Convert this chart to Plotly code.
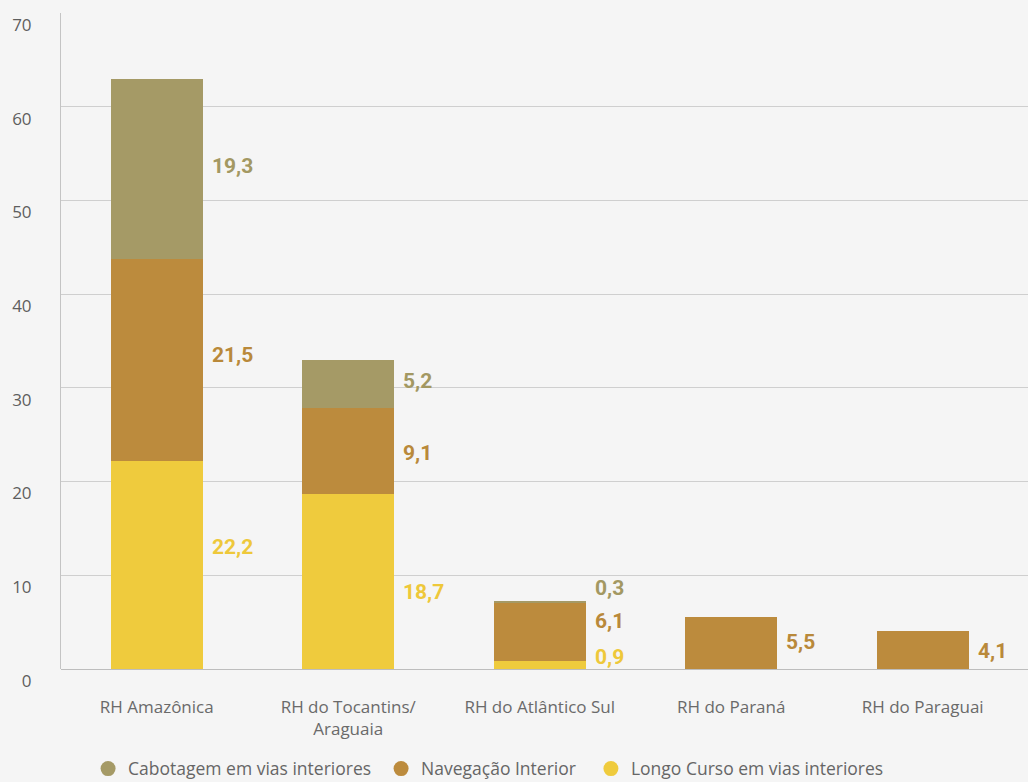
import plotly.graph_objects as go

categories = ["RH Amazônica", "RH do Tocantins/<br>Araguaia", "RH do Atlântico Sul",
              "RH do Paraná", "RH do Paraguai"]
longo_curso = [22.2, 18.7, 0.9, None, None]
navegacao = [21.5, 9.1, 6.1, 5.5, 4.1]
cabotagem = [19.3, 5.2, 0.3, None, None]
y_ticks = [0, 10, 20, 30, 40, 50, 60, 70]

names = ["Cabotagem em vias interiores", "Navegação Interior", "Longo Curso em vias interiores"]
bar_colors = {"cab": "#a59a66", "nav": "#bc8b3d", "lon": "#efcb3d"}
text_colors = {"cab": "#a39862", "nav": "#b9893a", "lon": "#eec83a"}

# fine vertical nudges (px) for the value labels so they don't collide
label_nudge = {
    "lon": [18, -11, 8, 0, 0],
    "nav": [5, -2, 11, 1, -1],
    "cab": [3, 3, 14, 0, 0],
}

fig = go.Figure()
series = [("lon", longo_curso, names[2]), ("nav", navegacao, names[1]), ("cab", cabotagem, names[0])]
for key, vals, nm in series:
    fig.add_trace(go.Bar(x=categories, y=[v if v is not None else 0 for v in vals],
                         marker_color=bar_colors[key], marker_line_width=0,
                         width=0.48, showlegend=False, name=nm, hoverinfo="y+name"))

# legend entries with round markers, one legend box per item
legend_ids = ["legend", "legend2", "legend3"]
legend_x = [0.028, 0.331, 0.548]
for lid, key, nm in zip(legend_ids, ["cab", "nav", "lon"], names):
    fig.add_trace(go.Scatter(x=[None], y=[None], mode="markers", name=nm, legend=lid,
                             marker=dict(symbol="circle", size=15, color=bar_colors[key])))

label_font = "Roboto, DejaVu Sans Condensed, sans-serif"

# value labels at segment midpoints
base = [0.0] * len(categories)
for key, vals, nm in series:
    for i, v in enumerate(vals):
        if v is None:
            continue
        mid = base[i] + v / 2
        base[i] += v
        fig.add_annotation(x=categories[i], y=mid, text=f"{v:.1f}".replace(".", ","),
                           xanchor="left", yanchor="middle", xshift=53,
                           yshift=label_nudge[key][i], showarrow=False,
                           font=dict(family=label_font, size=21, color=text_colors[key], weight="bold"))

legend_style = dict(orientation="h", xanchor="left", xref="paper",
                    yref="container", y=0.017, yanchor="middle",
                    font=dict(size=17.5, color="#666666"), itemwidth=30,
                    bgcolor="rgba(0,0,0,0)")

fig.update_layout(
    width=1028, height=782,
    margin=dict(l=61, r=0, t=13, b=113, autoexpand=False),
    barmode="stack",
    paper_bgcolor="#f5f5f5", plot_bgcolor="#f5f5f5",
    font=dict(family="Open Sans, sans-serif", color="#6a6a6a"),
    legend=dict(x=legend_x[0], **legend_style),
    legend2=dict(x=legend_x[1], **legend_style),
    legend3=dict(x=legend_x[2], **legend_style),
    xaxis=dict(range=[-0.5, 4.55], showgrid=False, zeroline=False, showline=False, automargin=False,
               tickfont=dict(size=17, color="#6a6a6a"), ticklabelstandoff=26, fixedrange=True),
    yaxis=dict(range=[0, 70], tickvals=y_ticks, showgrid=True, gridcolor="#cfcfcf", gridwidth=1,
               zeroline=True, zerolinecolor="#bdbdbd", zerolinewidth=1, automargin=False,
               showline=True, linecolor="#c4c4c4", linewidth=1,
               ticklabelposition="outside bottom",
               tickfont=dict(size=17, color="#5e5e5e"), ticklabelstandoff=25),
)

fig.write_html("out.html", config={"displayModeBar": False},
               post_script="document.body.style.margin='0px';document.body.style.background='#f5f5f5';")
